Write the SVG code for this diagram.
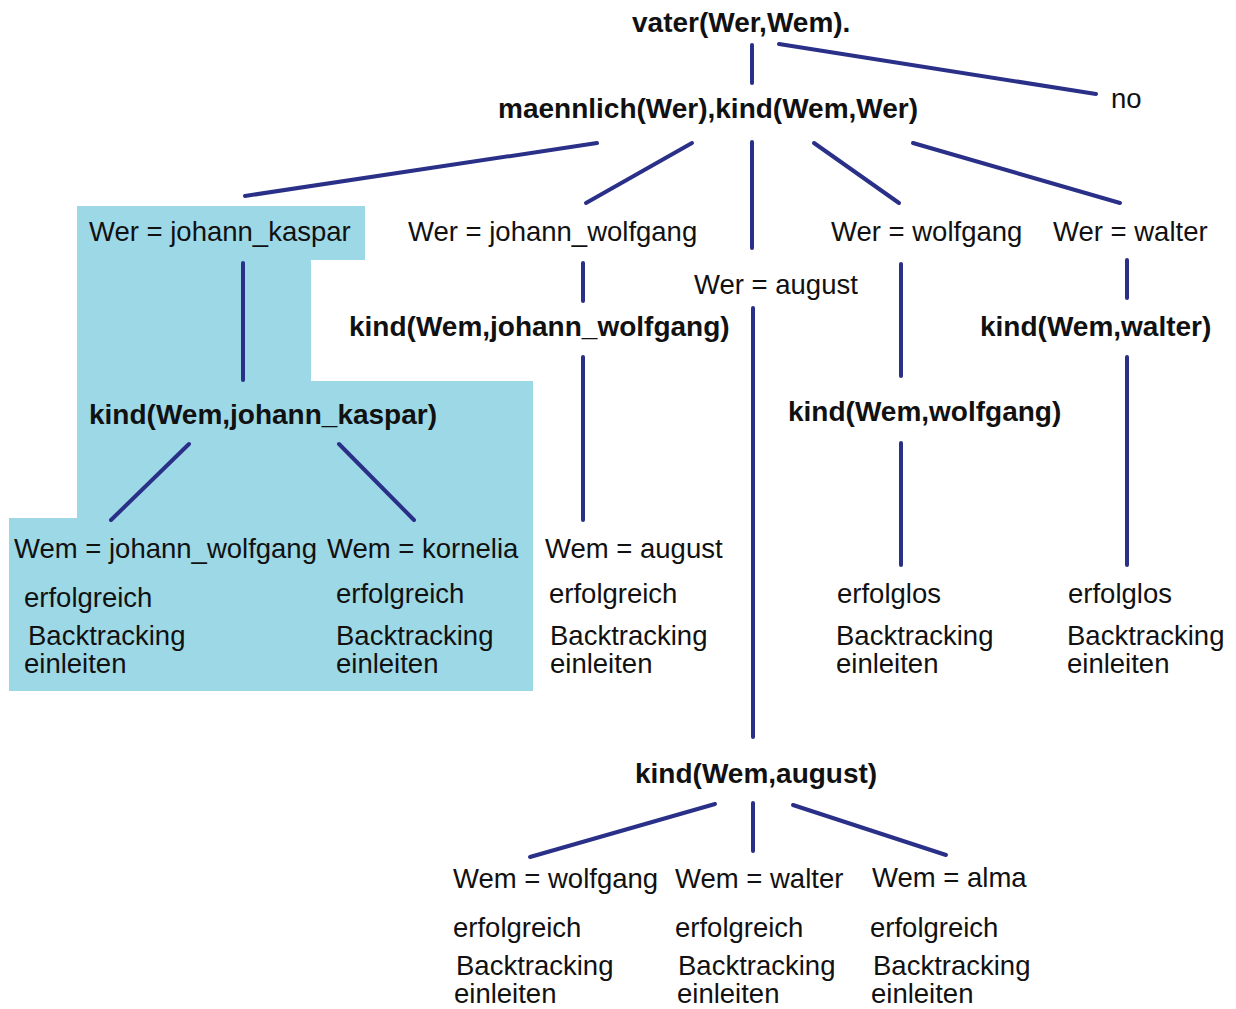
<svg xmlns="http://www.w3.org/2000/svg" width="1236" height="1009" viewBox="0 0 1236 1009">
<style>
text{font-family:"Liberation Sans",Arial,sans-serif;font-size:27.5px;fill:#111}
.b{font-weight:bold;font-size:28px}
.e line{stroke:#2a3088;stroke-width:4;stroke-linecap:round}
</style>
<rect width="1236" height="1009" fill="#fff"/>
<polygon id="highlight" points="77,206 365,206 365,260 311,260 311,381 533,381 533,691 9,691 9,518 77,518" fill="#9dd8e6"/>
<g class="e" id="connectors">
<line x1="752" y1="45" x2="752" y2="83"/>
<line x1="779" y1="44" x2="1096" y2="94"/>
<line x1="597" y1="143" x2="245" y2="196"/>
<line x1="692" y1="143" x2="586" y2="203"/>
<line x1="752" y1="142" x2="752" y2="248"/>
<line x1="814" y1="143" x2="899" y2="203"/>
<line x1="913" y1="143" x2="1120" y2="203"/>
<line x1="243" y1="263" x2="243" y2="380"/>
<line x1="583" y1="263" x2="583" y2="301"/>
<line x1="753" y1="308" x2="753" y2="737"/>
<line x1="901" y1="264" x2="901" y2="376"/>
<line x1="1127" y1="260" x2="1127" y2="298"/>
<line x1="583" y1="357" x2="583" y2="520"/>
<line x1="901" y1="443" x2="901" y2="565"/>
<line x1="1127" y1="357" x2="1127" y2="565"/>
<line x1="189" y1="444" x2="111" y2="520"/>
<line x1="339" y1="444" x2="414" y2="520"/>
<line x1="715" y1="804" x2="530" y2="857"/>
<line x1="753" y1="803" x2="753" y2="851"/>
<line x1="793" y1="805" x2="946" y2="855"/>
</g>
<g id="n_root"><text class="b" x="632" y="32">vater(Wer,Wem).</text></g>
<g id="n_no"><text x="1111" y="108">no</text></g>
<g id="n_goal"><text class="b" x="498" y="118">maennlich(Wer),kind(Wem,Wer)</text></g>
<g id="n_jk"><text x="89" y="241">Wer = johann_kaspar</text></g>
<g id="n_jw"><text x="408" y="241">Wer = johann_wolfgang</text></g>
<g id="n_wo"><text x="831" y="241">Wer = wolfgang</text></g>
<g id="n_wa"><text x="1053" y="241">Wer = walter</text></g>
<g id="n_au"><text x="694" y="294">Wer = august</text></g>
<g id="n_kjw"><text class="b" x="349" y="336">kind(Wem,johann_wolfgang)</text></g>
<g id="n_kwa"><text class="b" x="980" y="336">kind(Wem,walter)</text></g>
<g id="n_kjk"><text class="b" x="89" y="424">kind(Wem,johann_kaspar)</text></g>
<g id="n_kwo"><text class="b" x="788" y="421">kind(Wem,wolfgang)</text></g>
<g id="n_r1"><text x="14" y="558">Wem = johann_wolfgang</text><text x="24" y="607">erfolgreich</text><text x="28" y="645">Backtracking</text><text x="24" y="673">einleiten</text></g>
<g id="n_r2"><text x="327" y="558">Wem = kornelia</text><text x="336" y="603">erfolgreich</text><text x="336" y="645">Backtracking</text><text x="336" y="673">einleiten</text></g>
<g id="n_r3"><text x="545" y="558">Wem = august</text><text x="549" y="603">erfolgreich</text><text x="550" y="645">Backtracking</text><text x="550" y="673">einleiten</text></g>
<g id="n_r4"><text x="837" y="603">erfolglos</text><text x="836" y="645">Backtracking</text><text x="836" y="673">einleiten</text></g>
<g id="n_r5"><text x="1068" y="603">erfolglos</text><text x="1067" y="645">Backtracking</text><text x="1067" y="673">einleiten</text></g>
<g id="n_kau"><text class="b" x="635" y="783">kind(Wem,august)</text></g>
<g id="n_r6"><text x="453" y="888">Wem = wolfgang</text><text x="453" y="937">erfolgreich</text><text x="456" y="975">Backtracking</text><text x="454" y="1003">einleiten</text></g>
<g id="n_r7"><text x="675" y="888">Wem = walter</text><text x="675" y="937">erfolgreich</text><text x="678" y="975">Backtracking</text><text x="677" y="1003">einleiten</text></g>
<g id="n_r8"><text x="872" y="887">Wem = alma</text><text x="870" y="937">erfolgreich</text><text x="873" y="975">Backtracking</text><text x="871" y="1003">einleiten</text></g>
</svg>
